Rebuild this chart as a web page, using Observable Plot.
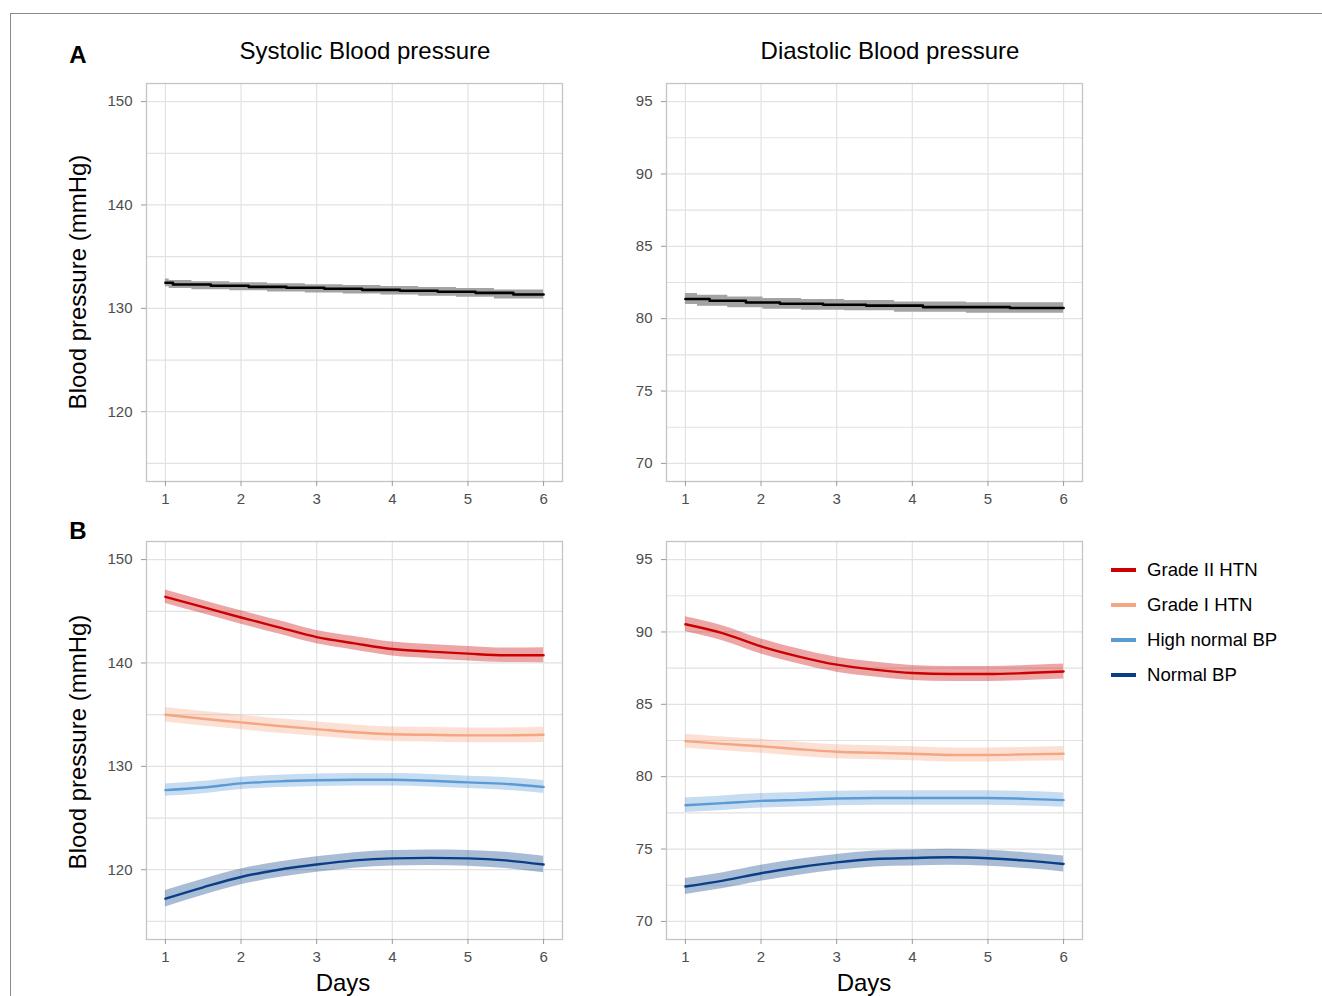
<!DOCTYPE html>
<html><head><meta charset="utf-8">
<script src="https://cdn.jsdelivr.net/npm/d3@7"></script>
<script src="https://cdn.jsdelivr.net/npm/@observablehq/plot@0.6"></script>
<style>
body{margin:0;background:#fff;font-family:"Liberation Sans",Arial,sans-serif;}
#root{position:relative;width:1322px;height:996px;overflow:hidden;background:#fff;}
.abs{position:absolute;white-space:nowrap;color:#000;line-height:1;}
</style></head><body><div id="root"></div>
<script>
// ---------- DATA ----------
const dayTicks = [1, 2, 3, 4, 5, 6];
const sysTicks = [120, 130, 140, 150];
const diaTicks = [70, 75, 80, 85, 90, 95];
const sysGrid = [115, 120, 125, 130, 135, 140, 145, 150];
const diaGrid = [70, 72.5, 75, 77.5, 80, 82.5, 85, 87.5, 90, 92.5, 95];

// Panel A (overall, step lines)
const sysAllDays = [1, 1.1, 1.6, 2.1, 2.6, 3.1, 3.6, 4.1, 4.6, 5.1, 5.6, 6];
const sysAll     = [132.47, 132.31, 132.18, 132.08, 131.99, 131.89, 131.79, 131.70, 131.60, 131.50, 131.34, 131.34];
const sysAllCI   = [0.38, 0.38, 0.39, 0.39, 0.40, 0.40, 0.41, 0.41, 0.42, 0.42, 0.43, 0.43];
const diaAllDays = [1, 1.32, 1.8, 2.25, 2.82, 3.39, 4.14, 5.29, 6];
const diaAll     = [81.36, 81.24, 81.12, 81.03, 80.96, 80.90, 80.80, 80.74, 80.74];
const diaAllCI   = [0.38, 0.38, 0.37, 0.37, 0.37, 0.36, 0.36, 0.36, 0.36];

// Panel B (by BP category)
const days = [1, 1.5, 2, 2.5, 3, 3.5, 4, 4.5, 5, 5.5, 6];
const groups = ["Grade II HTN", "Grade I HTN", "High normal BP", "Normal BP"];
const groupColors = ["#cc0000", "#f4a582", "#5b9bd5", "#0a3f87"];

const sysG2 = [146.4, 145.4, 144.4, 143.45, 142.5, 141.9, 141.35, 141.1, 140.9, 140.75, 140.75];
const sysG1 = [135.0, 134.6, 134.25, 133.9, 133.6, 133.3, 133.1, 133.05, 133.0, 133.0, 133.05];
const sysHN = [127.7, 127.95, 128.35, 128.55, 128.65, 128.7, 128.7, 128.6, 128.45, 128.3, 128.0];
const sysN  = [117.2, 118.3, 119.3, 120.0, 120.5, 120.9, 121.1, 121.15, 121.1, 120.9, 120.5];
const sysG2CI = [0.65, 0.65, 0.65, 0.65, 0.65, 0.66, 0.67, 0.68, 0.7, 0.7, 0.72];
const sysG1CI = [0.7, 0.7, 0.7, 0.7, 0.7, 0.7, 0.7, 0.7, 0.72, 0.72, 0.74];
const sysHNCI = [0.6, 0.6, 0.6, 0.6, 0.6, 0.6, 0.6, 0.6, 0.6, 0.62, 0.62];
const sysNCI  = [0.8, 0.78, 0.76, 0.75, 0.75, 0.75, 0.75, 0.75, 0.76, 0.78, 0.8];

const diaG2 = [90.53, 89.9, 89.0, 88.3, 87.74, 87.4, 87.16, 87.09, 87.09, 87.16, 87.27];
const diaG1 = [82.46, 82.27, 82.1, 81.9, 81.72, 81.65, 81.58, 81.5, 81.5, 81.54, 81.58];
const diaHN = [78.03, 78.17, 78.33, 78.4, 78.49, 78.53, 78.53, 78.53, 78.53, 78.47, 78.38];
const diaN  = [72.41, 72.82, 73.33, 73.74, 74.08, 74.31, 74.38, 74.43, 74.36, 74.2, 73.97];
const diaG2CI = [0.52, 0.52, 0.52, 0.52, 0.52, 0.52, 0.52, 0.52, 0.52, 0.52, 0.52];
const diaG1CI = [0.48, 0.48, 0.48, 0.48, 0.48, 0.48, 0.48, 0.48, 0.48, 0.48, 0.5];
const diaHNCI = [0.5, 0.5, 0.5, 0.5, 0.5, 0.5, 0.5, 0.5, 0.5, 0.5, 0.5];
const diaNCI  = [0.55, 0.55, 0.55, 0.55, 0.55, 0.55, 0.55, 0.55, 0.55, 0.55, 0.55];

// ---------- BUILD ----------
const FONT = '"Liberation Sans", Arial, Helvetica, sans-serif';
const root = document.getElementById("root");

function rows(xs, vals, ci) {
  return xs.map((d, i) => ({day: d, v: vals[i], lo: vals[i] - ci[i], hi: vals[i] + ci[i]}));
}

function panel(fx, fy, yDomain, yTicks, yGrid, seriesList, curve, areaCurve, lineWidth) {
  const mL = 46, mR = 2, mT = 2, mB = 30, w = 416, h = 398;
  const marks = [
    Plot.ruleY(yGrid, {stroke: "#e2e2e2", strokeWidth: 1.2}),
    Plot.ruleX(dayTicks, {stroke: "#e2e2e2", strokeWidth: 1.2})
  ];
  for (const s of seriesList) {
    marks.push(Plot.areaY(s.data, {x: "day", y1: "lo", y2: "hi", fill: s.fill, fillOpacity: s.fillOpacity, curve: areaCurve}));
  }
  for (const s of seriesList) {
    marks.push(Plot.lineY(s.data, {x: "day", y: "v", stroke: s.color, strokeWidth: lineWidth, curve}));
  }
  marks.push(Plot.frame({stroke: "#c4c4c4", strokeWidth: 1.3}));
  marks.push(Plot.axisY(yTicks, {tickSize: 5, tickPadding: 9, stroke: "#9a9a9a", fill: "#4d4d4d", label: null, fontSize: 15}));
  marks.push(Plot.axisX(dayTicks, {tickSize: 5, tickPadding: 7, stroke: "#9a9a9a", fill: "#4d4d4d", label: null, fontSize: 15}));
  const svg = Plot.plot({
    width: mL + w + mR, height: mT + h + mB,
    marginLeft: mL, marginRight: mR, marginTop: mT, marginBottom: mB,
    x: {domain: [0.75, 6.25]},
    y: {domain: yDomain},
    style: {fontFamily: FONT, fontSize: "15px", background: "transparent", overflow: "visible"},
    marks
  });
  svg.style.position = "absolute";
  svg.style.left = (fx - mL) + "px";
  svg.style.top = (fy - mT) + "px";
  root.appendChild(svg);
}

function text(t, x, y, size, extra = {}) {
  const d = document.createElement("div");
  d.className = "abs";
  d.textContent = t;
  d.style.left = x + "px";
  d.style.top = y + "px";
  d.style.fontSize = size + "px";
  d.style.fontFamily = FONT;
  d.style.transform = "translate(-50%,-50%)" + (extra.rotate ? " rotate(-90deg)" : "");
  if (extra.bold) d.style.fontWeight = "bold";
  root.appendChild(d);
}

// outer figure border
const border = document.createElement("div");
border.style.cssText = "position:absolute;left:10px;top:13px;width:1330px;height:1000px;border-top:1.3px solid #8a8a8a;border-left:1.3px solid #8a8a8a;";
root.appendChild(border);

const sysDomain = [113.25, 151.75];
const diaDomain = [68.75, 96.25];

// Panel A
panel(146, 83, sysDomain, sysTicks, sysGrid,
  [{data: rows(sysAllDays, sysAll, sysAllCI), color: "#000", fill: "#a3a3a3", fillOpacity: 1}], "step-after", "step", 2.6);
panel(666, 83, diaDomain, diaTicks, diaGrid,
  [{data: rows(diaAllDays, diaAll, diaAllCI), color: "#000", fill: "#a3a3a3", fillOpacity: 1}], "step-after", "step", 2.6);

// Panel B
const sysSeries = [sysG2, sysG1, sysHN, sysN];
const sysCIs = [sysG2CI, sysG1CI, sysHNCI, sysNCI];
const diaSeries = [diaG2, diaG1, diaHN, diaN];
const diaCIs = [diaG2CI, diaG1CI, diaHNCI, diaNCI];
panel(146, 541, sysDomain, sysTicks, sysGrid,
  groups.map((g, i) => ({data: rows(days, sysSeries[i], sysCIs[i]), color: groupColors[i], fill: groupColors[i], fillOpacity: 0.35})),
  "monotone-x", "monotone-x", 2.4);
panel(666, 541, diaDomain, diaTicks, diaGrid,
  groups.map((g, i) => ({data: rows(days, diaSeries[i], diaCIs[i]), color: groupColors[i], fill: groupColors[i], fillOpacity: 0.35})),
  "monotone-x", "monotone-x", 2.4);

// Text
text("A", 78, 55, 24, {bold: true});
text("B", 78, 531, 24, {bold: true});
text("Systolic Blood pressure", 365, 51, 24);
text("Diastolic Blood pressure", 890, 51, 24);
text("Blood pressure (mmHg)", 78, 282, 24, {rotate: true});
text("Blood pressure (mmHg)", 78, 742, 24, {rotate: true});
text("Days", 343, 983, 24);
text("Days", 864, 983, 24);

// Legend
const legendY = [570, 605, 640, 675];
groups.forEach((g, i) => {
  const ln = document.createElement("div");
  ln.style.cssText = `position:absolute;left:1111px;top:${legendY[i] - 2}px;width:25px;height:4px;background:${groupColors[i]};`;
  root.appendChild(ln);
  const t = document.createElement("div");
  t.className = "abs";
  t.textContent = g;
  t.style.cssText += `left:1147px;top:${legendY[i]}px;font-size:18.6px;font-family:${FONT};transform:translateY(-50%);`;
  root.appendChild(t);
});
</script></body></html>
